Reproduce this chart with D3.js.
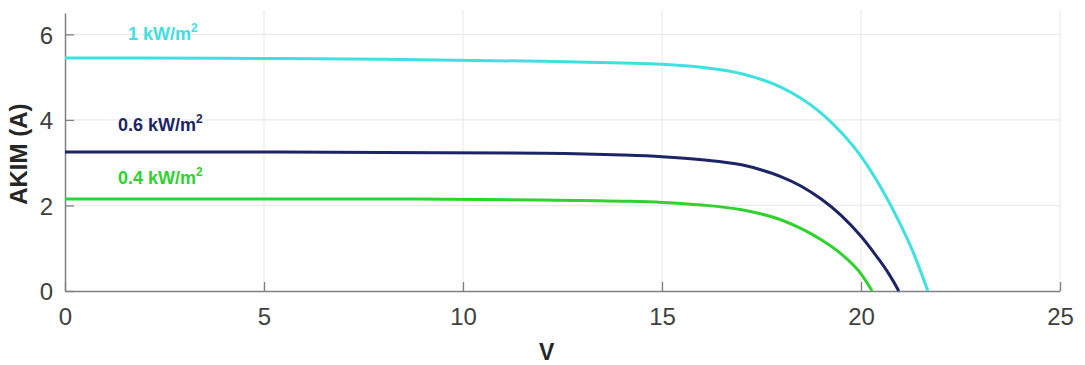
<!DOCTYPE html>
<html>
<head>
<meta charset="utf-8">
<script src="https://cdn.jsdelivr.net/npm/d3@7"></script>
<style>
  body { margin: 0; background: #fff; }
  text { font-family: "Liberation Sans", Arial, sans-serif; }
</style>
</head>
<body>
<div id="chart"></div>
<script>
// I-V curves
const v_1000 = [0, 4, 8, 12, 14, 15, 16, 17, 18, 18.5, 19, 19.5, 20, 20.5, 21, 21.3, 21.68];
const i_1000 = [5.45, 5.44, 5.42, 5.37, 5.33, 5.30, 5.23, 5.08, 4.76, 4.50, 4.16, 3.71, 3.15, 2.42, 1.54, 0.93, 0];

const v_600 = [0, 4, 8, 12, 14, 15, 16, 17, 17.5, 18, 18.5, 19, 19.5, 20, 20.4, 20.7, 20.95];
const i_600 = [3.25, 3.25, 3.24, 3.22, 3.18, 3.14, 3.07, 2.95, 2.83, 2.67, 2.45, 2.15, 1.77, 1.28, 0.80, 0.40, 0];

const v_400 = [0, 4, 8, 12, 14, 15, 16, 17, 17.5, 18, 18.5, 19, 19.5, 20, 20.28];
const i_400 = [2.15, 2.15, 2.15, 2.13, 2.10, 2.07, 2.01, 1.90, 1.80, 1.66, 1.46, 1.20, 0.87, 0.40, 0];

const series_names = ["1 kW/m", "0.6 kW/m", "0.4 kW/m"];
const series_colors = ["#3ee0e0", "#1c2466", "#2fd22f"];
// where each name sits, in data units (V, A)
const label_v = [1.58, 1.33, 1.33];
const label_i = [5.86, 3.74, 2.5];

const x_ticks = [0, 5, 10, 15, 20, 25];
const y_ticks = [0, 2, 4, 6];

const width = 1085, height = 365;
const margin = {left: 65, right: 25, top: 13, bottom: 74};

const svg = d3.select("#chart").append("svg")
    .attr("width", width)
    .attr("height", height);

const x = d3.scaleLinear().domain([0, 25]).range([margin.left, width - margin.right]);
const y = d3.scaleLinear().domain([0, 6.5]).range([height - margin.bottom, margin.top]);

// grid
svg.append("g").selectAll("line").data(x_ticks.slice(1)).join("line")
    .attr("x1", d => x(d)).attr("x2", d => x(d))
    .attr("y1", y(0)).attr("y2", y(6.5) - 3)
    .attr("stroke", "#ebebeb").attr("stroke-width", 1.2);
svg.append("g").selectAll("line").data(y_ticks.slice(1)).join("line")
    .attr("x1", x(0)).attr("x2", x(25))
    .attr("y1", d => y(d)).attr("y2", d => y(d))
    .attr("stroke", "#ebebeb").attr("stroke-width", 1.2);

// axes, ticks pointing inward like matlab
const xAxis = svg.append("g")
    .attr("transform", `translate(0,${y(0)})`)
    .call(d3.axisBottom(x).tickValues(x_ticks).tickFormat(d3.format("d"))
        .tickSizeInner(-9).tickSizeOuter(0).tickPadding(17));
const yAxis = svg.append("g")
    .attr("transform", `translate(${x(0)},0)`)
    .call(d3.axisLeft(y).tickValues(y_ticks).tickFormat(d3.format("d"))
        .tickSizeInner(-9).tickSizeOuter(0).tickPadding(12));

[xAxis, yAxis].forEach(a => {
    a.select(".domain").attr("stroke", "#808080").attr("stroke-width", 1.5);
    a.selectAll(".tick line").attr("stroke", "#808080").attr("stroke-width", 1.3);
    a.selectAll(".tick text")
        .attr("fill", "#404040")
        .style("font-size", "24px")
        .style("font-family", "'Liberation Sans', Arial, sans-serif");
});
yAxis.selectAll(".tick text").attr("dy", "0.36em");

// curves
const line = d3.line()
    .x(d => x(d[0]))
    .y(d => y(d[1]))
    .curve(d3.curveMonotoneX);

const curves = [d3.zip(v_1000, i_1000), d3.zip(v_600, i_600), d3.zip(v_400, i_400)];

svg.append("g").selectAll("path").data(curves).join("path")
    .attr("d", line)
    .attr("fill", "none")
    .attr("stroke", (d, i) => series_colors[i])
    .attr("stroke-width", 3);

// curve labels
const labels = svg.append("g").selectAll("text").data(series_names).join("text")
    .attr("x", (d, i) => x(label_v[i]))
    .attr("y", (d, i) => y(label_i[i]))
    .attr("fill", (d, i) => series_colors[i])
    .style("font-size", "18px")
    .style("font-weight", "bold");
labels.append("tspan").text(d => d);
labels.append("tspan").text("2").attr("dy", -8).style("font-size", "12px");

// axis titles
svg.append("text")
    .attr("x", x(12.1))
    .attr("y", 360)
    .attr("text-anchor", "middle")
    .attr("fill", "#262626")
    .style("font-size", "23px")
    .style("font-weight", "bold")
    .text("V");

svg.append("text")
    .attr("transform", `translate(27, ${y(3.2)}) rotate(-90)`)
    .attr("text-anchor", "middle")
    .attr("fill", "#262626")
    .style("font-size", "24px")
    .style("font-weight", "bold")
    .text("AKIM (A)");
</script>
</body>
</html>
